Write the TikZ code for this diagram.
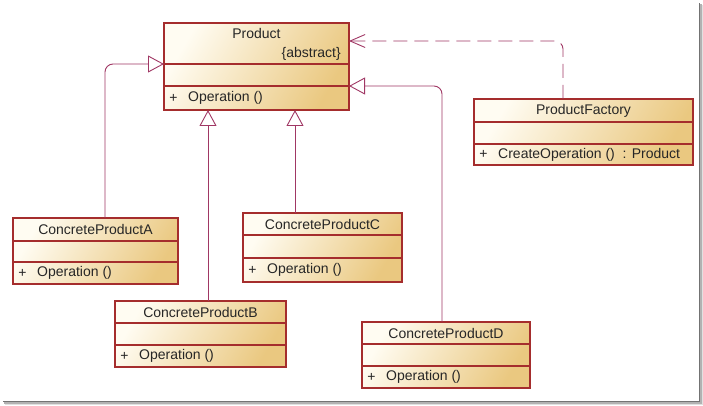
\documentclass[tikz,border=0pt]{standalone}
\usepackage{fontspec}
\setmainfont{Liberation Sans}
\usetikzlibrary{arrows.meta,calc}
\definecolor{bordc}{RGB}{165,45,45}
\definecolor{linkc}{RGB}{160,55,100}
\definecolor{lightc}{RGB}{255,252,242}
\definecolor{tanc}{RGB}{234,200,128}
\tikzset{
 classbox/.style={draw=bordc, line width=1.3pt, inner sep=0pt, outer sep=0pt,
   left color=lightc, right color=tanc, shading angle=60},
 divider/.style={draw=bordc, line width=1.1pt},
 lbl/.style={inner sep=0pt, font=\fontsize{14}{16}\selectfont, text=black!85},
 gen/.style={draw=linkc, line width=0.9pt, rounded corners=8pt,
   -{Triangle[open, length=16pt, width=17pt, fill=white]}},
 dep/.style={draw=linkc, line width=0.9pt, rounded corners=8pt,
   dash pattern=on 14pt off 7pt, -{Straight Barb[length=15pt, width=13pt]}},
}
% name, x1, y1, x2, y2, div1, div2
\newcommand\umlclassbox[7]{%
  \node[classbox, anchor=north west, minimum width={(#4-#2)*1pt},
        minimum height={(#5-#3)*1pt}] (#1) at (#2,#3) {};
  \draw[divider] ($(#1.north west)+(0,{#6-#3})$) -- ($(#1.north east)+(0,{#6-#3})$);
  \draw[divider] ($(#1.north west)+(0,{#7-#3})$) -- ($(#1.north east)+(0,{#7-#3})$);
}
\newcommand\umltitle[3]{%
  \node[lbl] (#1t) at ($(#1.north)+(0,{#2})$) {#3};
}
\newcommand\umlop[3]{%
  \node[lbl] (#1p) at ($(#1.south west)+(9.5,{-#2})$) {+};
  \node[lbl, anchor=west] (#1o) at ($(#1.south west)+(24,{-#2})$) {#3};
}
\begin{document}
\begin{tikzpicture}[x=1pt,y=-1pt]
\useasboundingbox (0,0) rectangle (703,406);
% frame shadow
\fill[black!55] (698.5,3) rectangle (700,402);
\fill[black!55] (3,400.5) rectangle (700,402);
\fill[black!30] (700,4) rectangle (701.5,403.5);
\fill[black!30] (4,402) rectangle (701.5,403.5);
\fill[black!12] (701.5,5) rectangle (703,405);
\fill[black!12] (5,403.5) rectangle (703,405);

\umlclassbox{P}{164}{23}{349}{110}{64}{86}
\umltitle{P}{10.5}{Product}
\node[lbl, anchor=east] (Pabs) at ($(P.north east)+(-8,30.5)$) {\{abstract\}};
\umlop{P}{12}{Operation ()}

\umlclassbox{F}{474}{99}{693}{165}{122}{144}
\umltitle{F}{11.5}{ProductFactory}
\umlop{F}{10.5}{CreateOperation ()\ \ : Product}

\umlclassbox{A}{13}{218}{178}{284}{241}{262}
\umltitle{A}{11.5}{ConcreteProductA}
\umlop{A}{11}{Operation ()}

\umlclassbox{B}{115}{301}{286}{367}{323}{345}
\umltitle{B}{11}{ConcreteProductB}
\umlop{B}{11}{Operation ()}

\umlclassbox{C}{243}{213}{402}{282}{235}{258}
\umltitle{C}{11}{ConcreteProductC}
\umlop{C}{12}{Operation ()}

\umlclassbox{D}{362}{322}{530}{388}{344}{366}
\umltitle{D}{11}{ConcreteProductD}
\umlop{D}{11}{Operation ()}

% connectors
\draw[gen] ([xshift=9.5pt]A.north) |- ([yshift=2.5pt]P.west);
\draw[gen] ([xshift=7.5pt]B.north) -- ([xshift=7.5pt]B.north |- P.south);
\draw[gen] ([xshift=-27.5pt]C.north) -- ([xshift=-27.5pt]C.north |- P.south);
\draw[gen] ([xshift=-4pt]D.north) |- ([yshift=-19.5pt]P.east);
\draw[dep] ([xshift=-20.5pt]F.north) |- ([yshift=25.5pt]P.east);
\end{tikzpicture}
\end{document}
